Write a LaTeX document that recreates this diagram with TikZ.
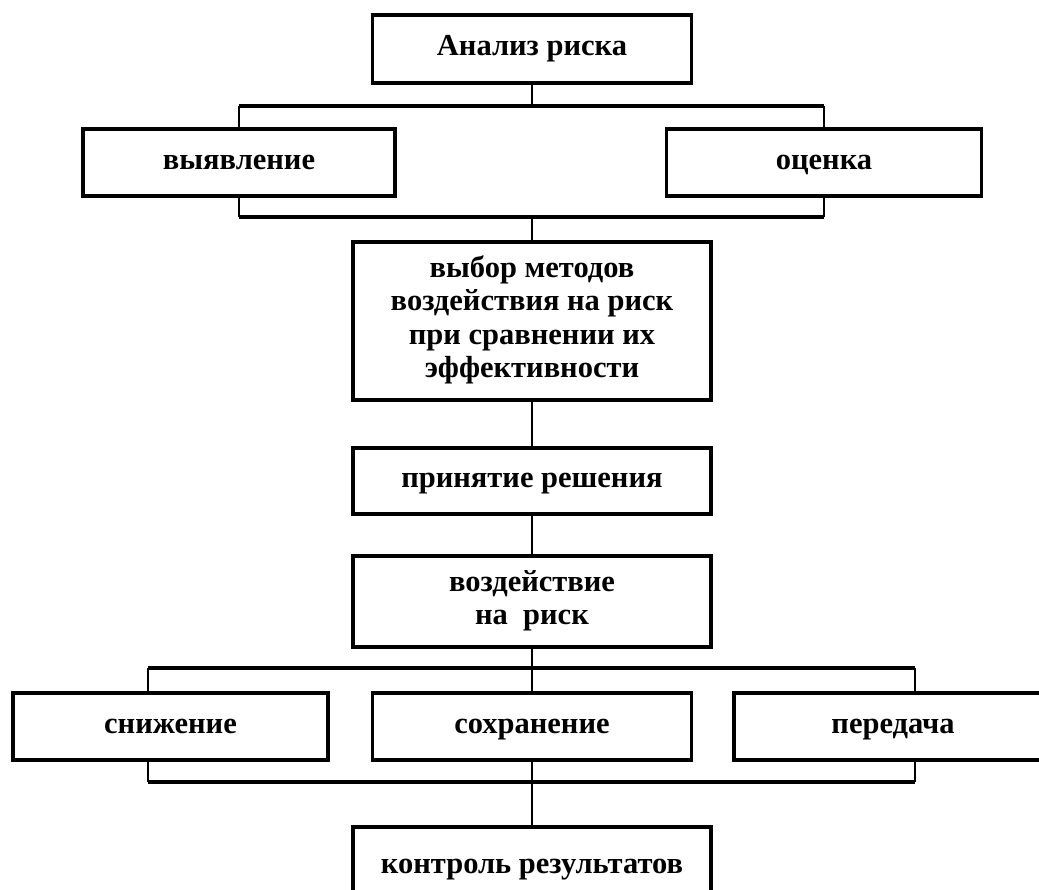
\documentclass[tikz,border=0pt]{standalone}
\usepackage{fontspec}
\setmainfont{Liberation Serif}
\begin{document}
\begin{tikzpicture}[x=1pt,y=-1pt,
  box/.style={draw=black,line width=3.5pt,rectangle,inner sep=0pt,align=center,
    font=\fontsize{30.5}{33.5}\selectfont\bfseries},
  conn/.style={line width=1.3pt},
  bar/.style={line width=3.5pt}]
\useasboundingbox (0,0) rectangle (1039,890);
\clip (0,0) rectangle (1039,890);
\node[box,minimum width=319pt,minimum height=68pt] (top) at (532,49) {\strut Анализ риска};
\node[box,minimum width=312pt,minimum height=67pt] (vyav) at (239,162.5) {\strut выявление};
\node[box,minimum width=315pt,minimum height=67pt] (ocen) at (824,162.5) {\strut оценка};
\node[box,minimum width=358pt,minimum height=158pt] (vybor) at (532,321) {\strut выбор методов\\воздействия на риск\\при сравнении их\\\strut эффективности};
\node[box,minimum width=358pt,minimum height=66pt] (prin) at (532,481) {\strut принятие решения};
\node[box,minimum width=358pt,minimum height=91pt] (vozd) at (532,601.5) {\strut воздействие\\\strut на~~риск};
\node[box,minimum width=315pt,minimum height=67pt] (sniz) at (170.5,726.5) {\strut снижение};
\node[box,minimum width=319pt,minimum height=67pt] (sohr) at (532,726.5) {\strut сохранение};
\node[box,minimum width=318pt,minimum height=67pt] (pered) at (893,726.5) {\strut передача};
\node[box,minimum width=358pt,minimum height=80pt] (kontr) at (532,867) {\strut контроль результатов};
\coordinate (j1) at (532,106);
\coordinate (j1L) at (239,106);
\coordinate (j1R) at (824,106);
\coordinate (j2) at (532,217);
\coordinate (j2L) at (239,217);
\coordinate (j2R) at (824,217);
\coordinate (j3) at (532,668);
\coordinate (j3L) at (148,668);
\coordinate (j3R) at (915,668);
\coordinate (j4) at (532,782);
\coordinate (j4L) at (148,782);
\coordinate (j4R) at (915,782);
\draw[conn] (top.south) -- (j1);
\draw[bar] (j1L) -- (j1R);
\draw[conn] (j1L) -- (vyav.north);
\draw[conn] (j1R) -- (ocen.north);
\draw[conn] (vyav.south) -- (j2L);
\draw[conn] (ocen.south) -- (j2R);
\draw[bar] (j2L) -- (j2R);
\draw[conn] (j2) -- (vybor.north);
\draw[conn] (vybor.south) -- (prin.north);
\draw[conn] (prin.south) -- (vozd.north);
\draw[conn] (vozd.south) -- (j3);
\draw[bar] (j3L) -- (j3R);
\draw[conn] (j3L) -- (j3L |- sniz.north);
\draw[conn] (j3) -- (sohr.north);
\draw[conn] (j3R) -- (j3R |- pered.north);
\draw[conn] (j4L |- sniz.south) -- (j4L);
\draw[conn] (sohr.south) -- (j4);
\draw[conn] (j4R |- pered.south) -- (j4R);
\draw[bar] (j4L) -- (j4R);
\draw[conn] (j4) -- (kontr.north);
\end{tikzpicture}
\end{document}
